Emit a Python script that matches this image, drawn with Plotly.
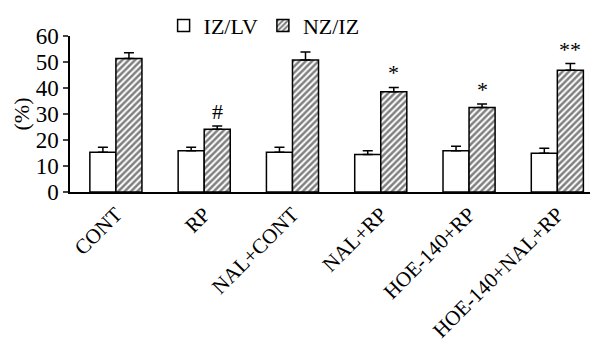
import plotly.graph_objects as go

categories = ["CONT", "RP", "NAL+CONT", "NAL+RP", "HOE-140+RP", "HOE-140+NAL+RP"]
iz_lv = [15.3, 15.9, 15.3, 14.4, 15.9, 14.9]
iz_lv_err = [1.9, 1.3, 1.9, 1.5, 1.7, 1.9]
nz_iz = [51.3, 24.1, 50.8, 38.6, 32.5, 46.8]
nz_iz_err = [2.3, 1.3, 3.0, 1.6, 1.3, 2.6]
marks = ["", "#", "", "*", "*", "**"]

FONT = "Liberation Serif, Times New Roman, serif"

fig = go.Figure()
fig.add_trace(go.Bar(
    x=categories, y=iz_lv, name="IZ/LV",
    marker=dict(color="white", line=dict(color="black", width=1.5)),
    error_y=dict(type="data", array=iz_lv_err, symmetric=False, arrayminus=[0]*6,
                 color="black", thickness=1.5, width=5),
))
fig.add_trace(go.Bar(
    x=categories, y=nz_iz, name="NZ/IZ",
    marker=dict(color="white", line=dict(color="black", width=1.5),
                pattern=dict(shape="/", fgcolor="black", bgcolor="white", size=4.5, solidity=0.55)),
    error_y=dict(type="data", array=nz_iz_err, symmetric=False, arrayminus=[0]*6,
                 color="black", thickness=1.5, width=5),
))

for i, m in enumerate(marks):
    if m:
        fig.add_annotation(x=i, y=nz_iz[i] + nz_iz_err[i], text=m, showarrow=False,
                           xshift=13, yshift=0, yanchor="bottom",
                           font=dict(family=FONT, size=22, color="black"))

fig.update_layout(
    width=595, height=347,
    margin=dict(l=70, r=5, t=33, b=155),
    paper_bgcolor="white", plot_bgcolor="white",
    barmode="group", bargap=0.41, bargroupgap=0,
    font=dict(family=FONT, size=22, color="black"),
    showlegend=True,
    legend=dict(orientation="h", x=0.18, y=1.2, xanchor="left", yanchor="top",
                font=dict(family=FONT, size=22), bgcolor="rgba(0,0,0,0)",
                itemwidth=30, tracegroupgap=0),
    xaxis=dict(range=[-0.52, 5.37], showline=True, linecolor="black", linewidth=1.5,
               ticks="", tickangle=-45, showgrid=False, automargin=False,
               tickfont=dict(family=FONT, size=21)),
    yaxis=dict(range=[0, 60], dtick=10, showline=True, linecolor="black", linewidth=1.5,
               ticks="outside", ticklen=5, tickwidth=1.5, showgrid=False, zeroline=False,
               automargin=False,
               tickfont=dict(family=FONT, size=23),
               title=dict(text="(%)", font=dict(family=FONT, size=22), standoff=0)),
)

fig.write_html("out.html", config={"displayModeBar": False},
               post_script="document.body.style.margin='0';")
